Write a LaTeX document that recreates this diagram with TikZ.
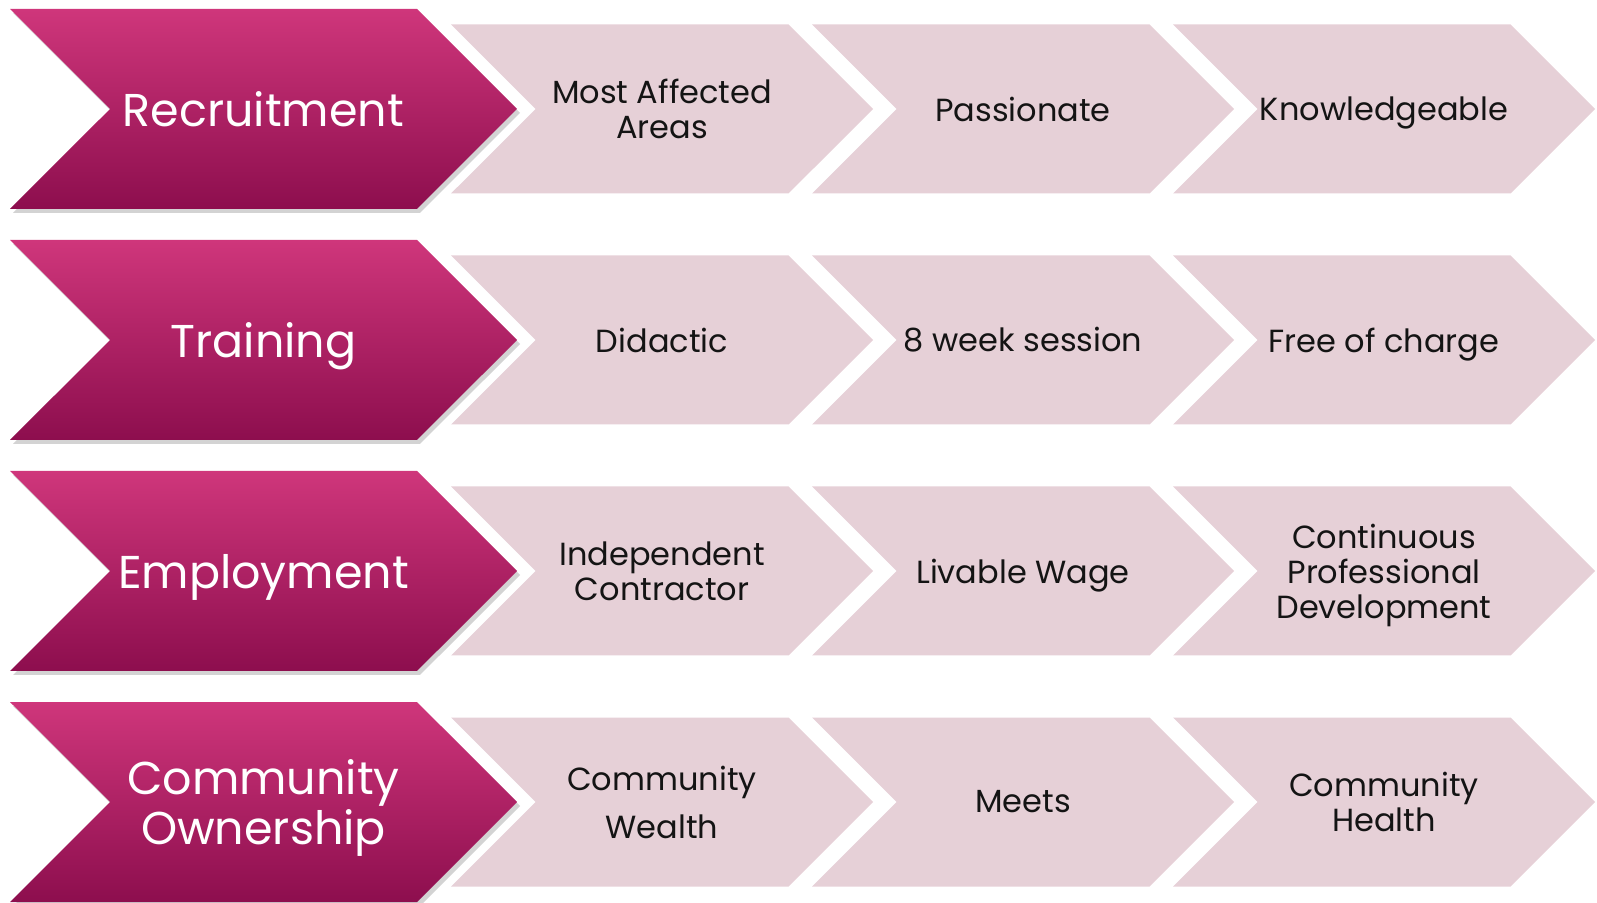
\documentclass[tikz,border=0pt]{standalone}
\usepackage{fontspec}
\setmainfont{Poppins}
\usetikzlibrary{shapes,positioning,calc,shadows}

\definecolor{stagetop}{RGB}{207,54,123}
\definecolor{stagebot}{RGB}{141,14,78}
\definecolor{itemfill}{RGB}{230,208,215}
\definecolor{itemtext}{RGB}{20,20,20}

% keep descenders out of the vertical centring
\newcommand{\nodepth}[1]{\raisebox{0pt}[\height][0pt]{#1}}

\begin{document}
\begin{tikzpicture}[node distance=180.5pt,
    stage/.style={signal, signal from=west, signal to=east, signal pointer angle=90,
        top color=stagetop, bottom color=stagebot, draw=none,
        minimum width=253.5pt, minimum height=100pt, inner sep=0pt,
        text=white, align=center, font=\fontsize{23}{25}\selectfont,
        drop shadow={shadow xshift=1.5pt, shadow yshift=-2pt, opacity=0.35}},
    item/.style={signal, signal from=west, signal to=east, signal pointer angle=90,
        fill=itemfill, draw=none, minimum width=211pt, minimum height=84.5pt, inner sep=0pt,
        text=itemtext, align=center, font=\fontsize{16}{17.5}\selectfont}]
    \useasboundingbox (0,0) rectangle (798.5pt,-451.5pt);

    % Recruitment
    \node[stage] (rec) at (131.75pt,-54.5pt) {Recruitment};
    \node[item, right of=rec, node distance=199.25pt] (rec1) {Most Affected\\Areas};
    \node[item, right of=rec1] (rec2) {Passionate};
    \node[item, right of=rec2] (rec3) {\nodepth{Knowledgeable}};

    % Training
    \node[stage, below of=rec, node distance=115.5pt] (tra) {\nodepth{Training}};
    \node[item, right of=tra, node distance=199.25pt] (tra1) {Didactic};
    \node[item, right of=tra1] (tra2) {8 week session};
    \node[item, right of=tra2] (tra3) {\nodepth{Free of charge}};

    % Employment
    \node[stage, below of=tra, node distance=115.5pt] (emp) {\nodepth{Employment}};
    \node[item, right of=emp, node distance=199.25pt] (emp1) {Independent\\Contractor};
    \node[item, right of=emp1] (emp2) {\nodepth{Livable Wage}};
    \node[item, right of=emp2] (emp3) {Continuous\\Professional\\\nodepth{Development}};

    % Community Ownership
    \node[stage, below of=emp, node distance=115.5pt] (own) {Community\\\nodepth{Ownership}};
    \node[item, right of=own, node distance=199.25pt] (own1) {Community\\[6.5pt]Wealth};
    \node[item, right of=own1] (own2) {Meets};
    \node[item, right of=own2] (own3) {Community\\Health};
\end{tikzpicture}
\end{document}
